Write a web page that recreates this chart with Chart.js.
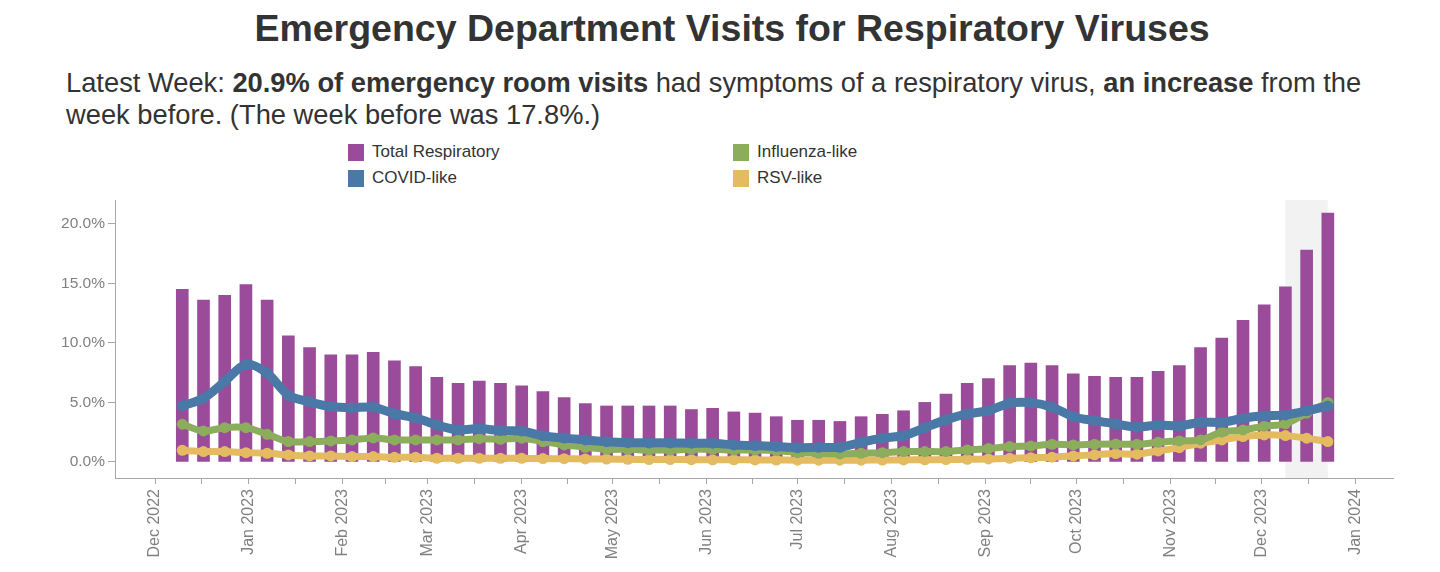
<!DOCTYPE html>
<html lang="en">
  <head>
    <meta charset="UTF-8" />
    <title>Emergency Department Visits for Respiratory Viruses</title>
    <script src="https://cdn.jsdelivr.net/npm/chart.js"></script>
    <style>
      body {
        margin: 0;
        padding: 0;
        background: #fff;
        font-family: "Liberation Sans", Arial, sans-serif;
        color: #333;
        width: 1440px;
        height: 572px;
        overflow: hidden;
        position: relative;
      }

      .title {
        position: absolute;
        left: 0;
        width: 1464px;
        top: 6px;
        text-align: center;
        font-size: 37.5px;
        line-height: 44px;
        font-weight: bold;
        color: #333;
        margin: 0;
      }

      .subtitle {
        position: absolute;
        left: 66px;
        top: 67px;
        width: 1360px;
        font-size: 27.3px;
        line-height: 32px;
        color: #333;
        margin: 0;
        white-space: nowrap;
      }

      .legend-item {
        position: absolute;
        font-size: 17px;
        color: #333;
        display: flex;
        align-items: center;
        height: 18px;
      }

      .legend-item span {
        display: inline-block;
        width: 16px;
        height: 17px;
        margin-right: 8px;
      }

      #chartWrap {
        position: absolute;
        left: 0;
        top: 0;
        width: 1440px;
        height: 572px;
      }
    </style>
  </head>
  <body>
    <h1 class="title">Emergency Department Visits for Respiratory Viruses</h1>
    <p class="subtitle">
      Latest Week: <b>20.9% of emergency room visits</b> had symptoms of a respiratory virus, <b>an increase</b> from the<br />
      week before. (The week before was 17.8%.)
    </p>

    <div class="legend-item" style="left: 348px; top: 143px"><span style="background: #9a4c9a"></span>Total Respiratory</div>
    <div class="legend-item" style="left: 348px; top: 169px"><span style="background: #4a79a8"></span>COVID-like</div>
    <div class="legend-item" style="left: 733px; top: 143px"><span style="background: #8cae5c"></span>Influenza-like</div>
    <div class="legend-item" style="left: 733px; top: 169px"><span style="background: #e5bb62"></span>RSV-like</div>

    <div id="chartWrap"><canvas id="chartEd"></canvas></div>

    <script>
      // week ending dates
      const weeks = [
        "2022-12-10", "2022-12-17", "2022-12-24", "2022-12-31",
        "2023-01-07", "2023-01-14", "2023-01-21", "2023-01-28",
        "2023-02-04", "2023-02-11", "2023-02-18", "2023-02-25",
        "2023-03-04", "2023-03-11", "2023-03-18", "2023-03-25",
        "2023-04-01", "2023-04-08", "2023-04-15", "2023-04-22", "2023-04-29",
        "2023-05-06", "2023-05-13", "2023-05-20", "2023-05-27",
        "2023-06-03", "2023-06-10", "2023-06-17", "2023-06-24",
        "2023-07-01", "2023-07-08", "2023-07-15", "2023-07-22", "2023-07-29",
        "2023-08-05", "2023-08-12", "2023-08-19", "2023-08-26",
        "2023-09-02", "2023-09-09", "2023-09-16", "2023-09-23", "2023-09-30",
        "2023-10-07", "2023-10-14", "2023-10-21", "2023-10-28",
        "2023-11-04", "2023-11-11", "2023-11-18", "2023-11-25",
        "2023-12-02", "2023-12-09", "2023-12-16", "2023-12-23",
      ];

      const totalResp = [
        14.5, 13.6, 14.0, 14.9, 13.6, 10.6, 9.6, 9.0, 9.0, 9.2,
        8.5, 8.0, 7.1, 6.6, 6.8, 6.6, 6.4, 5.9, 5.4, 4.9,
        4.7, 4.7, 4.7, 4.7, 4.4, 4.5, 4.2, 4.1, 3.8, 3.5,
        3.5, 3.4, 3.8, 4.0, 4.3, 5.0, 5.7, 6.6, 7.0, 8.1,
        8.3, 8.1, 7.4, 7.2, 7.1, 7.1, 7.6, 8.1, 9.6, 10.4,
        11.9, 13.2, 14.7, 17.8, 20.9,
      ];

      const covidLike = [
        4.7, 5.35, 6.75, 8.2, 7.45, 5.6, 5.05, 4.65, 4.55, 4.6,
        4.05, 3.7, 3.1, 2.7, 2.8, 2.63, 2.6, 2.2, 2.0, 1.85,
        1.7, 1.62, 1.6, 1.6, 1.57, 1.57, 1.43, 1.37, 1.3, 1.2,
        1.23, 1.23, 1.65, 2.0, 2.2, 2.88, 3.53, 4.03, 4.3, 4.93,
        4.98, 4.6, 3.8, 3.47, 3.2, 2.92, 3.1, 3.03, 3.33, 3.33,
        3.67, 3.87, 3.95, 4.29, 4.7,
      ];

      const fluLike = [
        3.17, 2.6, 2.88, 2.88, 2.32, 1.71, 1.71, 1.76, 1.85, 2.02,
        1.85, 1.85, 1.85, 1.85, 1.95, 1.9, 1.99, 1.71, 1.43, 1.23,
        1.06, 1.06, 1.0, 1.0, 1.06, 1.06, 1.0, 1.0, 0.95, 0.78,
        0.73, 0.67, 0.73, 0.78, 0.87, 0.87, 0.87, 1.0, 1.12, 1.29,
        1.34, 1.48, 1.43, 1.48, 1.5, 1.48, 1.65, 1.76, 1.85, 2.5,
        2.69, 3.0, 3.2, 4.1, 5.0,
      ];

      const rsvLike = [
        0.98, 0.87, 0.87, 0.78, 0.73, 0.59, 0.5, 0.5, 0.45, 0.45,
        0.39, 0.39, 0.31, 0.31, 0.31, 0.3, 0.3, 0.28, 0.27, 0.25,
        0.24, 0.22, 0.2, 0.2, 0.19, 0.18, 0.18, 0.17, 0.16, 0.15,
        0.15, 0.15, 0.15, 0.16, 0.17, 0.18, 0.2, 0.22, 0.25, 0.3,
        0.35, 0.4, 0.5, 0.6, 0.7, 0.65, 0.92, 1.2, 1.57, 1.85,
        2.13, 2.27, 2.21, 1.99, 1.71,
      ];

      const monthTicks = [
        "2022-12-01", "2023-01-01", "2023-02-01", "2023-03-01", "2023-04-01",
        "2023-05-01", "2023-06-01", "2023-07-01", "2023-08-01", "2023-09-01",
        "2023-10-01", "2023-11-01", "2023-12-01", "2024-01-01",
      ];
      const monthLabels = [
        "Dec 2022", "Jan 2023", "Feb 2023", "Mar 2023", "Apr 2023",
        "May 2023", "Jun 2023", "Jul 2023", "Aug 2023", "Sep 2023",
        "Oct 2023", "Nov 2023", "Dec 2023", "Jan 2024",
      ];
      const yTicks = [0, 5, 10, 15, 20];

      // latest weeks shaded
      const highlightFrom = "2023-12-09";
      const highlightTo = "2023-12-23";

      function toDay(s) {
        const p = s.split("-").map(Number);
        return Date.UTC(p[0], p[1] - 1, p[2]) / 86400000;
      }

      const xs = weeks.map(toDay);
      const pts = (arr) => arr.map((v, i) => ({ x: xs[i], y: v }));

      const majorVals = monthTicks.map(toDay);
      const tickLabel = new Map();
      majorVals.forEach((v, i) => tickLabel.set(v, monthLabels[i]));
      const allTicks = [];
      majorVals.forEach((v, i) => {
        allTicks.push(v);
        if (i < majorVals.length - 1) allTicks.push((v + majorVals[i + 1]) / 2);
      });

      const gray = "#808080";
      const axisColor = "#a6a6a6";
      const axisFont = { family: "'Liberation Sans', Arial, sans-serif", size: 16 };

      const shadePlugin = {
        id: "shade",
        beforeDatasetsDraw(chart) {
          const { ctx, chartArea, scales } = chart;
          const x1 = scales.x.getPixelForValue(toDay(highlightFrom));
          const x2 = scales.x.getPixelForValue(toDay(highlightTo));
          ctx.save();
          ctx.fillStyle = "#f2f2f2";
          ctx.fillRect(x1, chartArea.top, x2 - x1, chartArea.bottom - chartArea.top);
          ctx.restore();
        },
      };

      const lineStyle = (color, width) => ({
        type: "line",
        borderColor: color,
        backgroundColor: color,
        borderWidth: width,
        pointRadius: 5.5,
        pointBorderWidth: 0,
        pointBackgroundColor: color,
        tension: 0.3,
        fill: false,
      });

      new Chart(document.getElementById("chartEd"), {
        type: "bar",
        data: {
          datasets: [
            Object.assign(lineStyle("#4a79a8", 9), { label: "COVID-like", data: pts(covidLike), order: 1 }),
            Object.assign(lineStyle("#8cae5c", 7), { label: "Influenza-like", data: pts(fluLike), order: 2 }),
            Object.assign(lineStyle("#e5bb62", 7), { label: "RSV-like", data: pts(rsvLike), order: 3 }),
            {
              type: "bar",
              label: "Total Respiratory",
              data: pts(totalResp),
              backgroundColor: "#9a4c9a",
              barThickness: 12,
              order: 4,
            },
          ],
        },
        options: {
          responsive: true,
          maintainAspectRatio: false,
          animation: false,
          layout: { padding: { left: 0, top: 200, right: 47, bottom: 0 } },
          plugins: {
            legend: { display: false },
            tooltip: { enabled: false },
          },
          scales: {
            x: {
              type: "linear",
              offset: false,
              min: toDay("2022-12-01") - 13.2,
              max: toDay("2024-01-01") + 12.5,
              afterBuildTicks(scale) {
                scale.ticks = allTicks.map((v) => ({ value: v }));
              },
              afterFit(scale) {
                scale.height = 94;
              },
              ticks: {
                autoSkip: false,
                minRotation: 90,
                maxRotation: 90,
                padding: 5,
                color: gray,
                font: axisFont,
                callback: (v) => tickLabel.get(v) || "",
              },
              grid: {
                offset: false,
                drawOnChartArea: false,
                drawTicks: true,
                tickLength: 6,
                color: axisColor,
              },
              border: { display: true, color: axisColor, width: 1 },
            },
            y: {
              min: -1.35,
              max: 22,
              afterBuildTicks(scale) {
                scale.ticks = yTicks.map((v) => ({ value: v }));
              },
              afterFit(scale) {
                scale.width = 115;
              },
              ticks: {
                padding: 3,
                color: gray,
                font: { family: "'Liberation Sans', Arial, sans-serif", size: 15.5 },
                callback: (v) => v.toFixed(1) + "%",
              },
              grid: {
                drawOnChartArea: false,
                drawTicks: true,
                tickLength: 7,
                color: axisColor,
              },
              border: { display: true, color: axisColor, width: 1 },
            },
          },
        },
        plugins: [shadePlugin],
      });
    </script>
  </body>
</html>
